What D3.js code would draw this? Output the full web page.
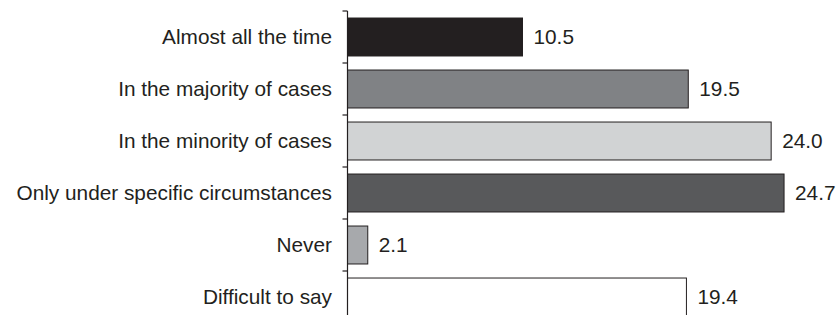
<!DOCTYPE html>
<html>
<head>
<meta charset="utf-8">
<script src="https://cdn.jsdelivr.net/npm/d3@7"></script>
<style>
  body { margin: 0; background: #fff; }
  text { font-family: "Liberation Sans", Arial, sans-serif; fill: #231f20; }
</style>
</head>
<body>
<svg id="chart" width="839" height="315"></svg>
<script>
// Chart data
const categories = [
    "Almost all the time",
    "In the majority of cases",
    "In the minority of cases",
    "Only under specific circumstances",
    "Never",
    "Difficult to say"
];
const values = [10.5, 19.5, 24.0, 24.7, 2.1, 19.4];
const barColors = ["#231f20", "#808285", "#d1d3d4", "#58595b", "#a7a9ac", "#ffffff"];

const svg = d3.select("#chart");

// Scales (axis starts at 1, not 0, like the original)
const x = d3.scaleLinear()
    .domain([1, 25])
    .range([347.5, 347.5 + 24 * 18.42]);

const y = d3.scaleBand()
    .domain(categories)
    .range([11, 323])
    .paddingInner(0.27)
    .paddingOuter(0.135);

const rows = categories.map((c, i) => ({ cat: c, value: values[i], color: barColors[i] }));

// Bars
svg.selectAll(".bar")
    .data(rows)
    .join("rect")
    .attr("class", "bar")
    .attr("x", x(1))
    .attr("y", d => y(d.cat))
    .attr("width", d => x(d.value) - x(1))
    .attr("height", y.bandwidth())
    .attr("fill", d => d.color)
    .attr("stroke", "#231f20")
    .attr("stroke-width", 1);

// Value labels
svg.selectAll(".bar-label")
    .data(rows)
    .join("text")
    .attr("class", "bar-label")
    .attr("x", d => x(d.value) + 11)
    .attr("y", d => y(d.cat) + y.bandwidth() / 2)
    .attr("dy", "0.35em")
    .attr("font-size", "20.8px")
    .text(d => d.value.toFixed(1));

// Category labels
svg.selectAll(".cat-label")
    .data(rows)
    .join("text")
    .attr("class", "cat-label")
    .attr("x", x(1) - 15.5)
    .attr("y", d => y(d.cat) + y.bandwidth() / 2)
    .attr("dy", "0.35em")
    .attr("text-anchor", "end")
    .attr("font-size", "20.8px")
    .text(d => d.cat);

// Vertical axis with ticks between the bands
const axisG = svg.append("g").attr("class", "y-axis");
axisG.append("line")
    .attr("x1", x(1)).attr("x2", x(1))
    .attr("y1", y.range()[0]).attr("y2", y.range()[1])
    .attr("stroke", "#231f20")
    .attr("stroke-width", 1.2);

const tickPos = d3.range(categories.length + 1).map(i => y.range()[0] + i * y.step());
axisG.selectAll(".tick")
    .data(tickPos)
    .join("line")
    .attr("class", "tick")
    .attr("x1", x(1) - 5).attr("x2", x(1))
    .attr("y1", d => d).attr("y2", d => d)
    .attr("stroke", "#231f20")
    .attr("stroke-width", 1.2);
</script>
</body>
</html>
